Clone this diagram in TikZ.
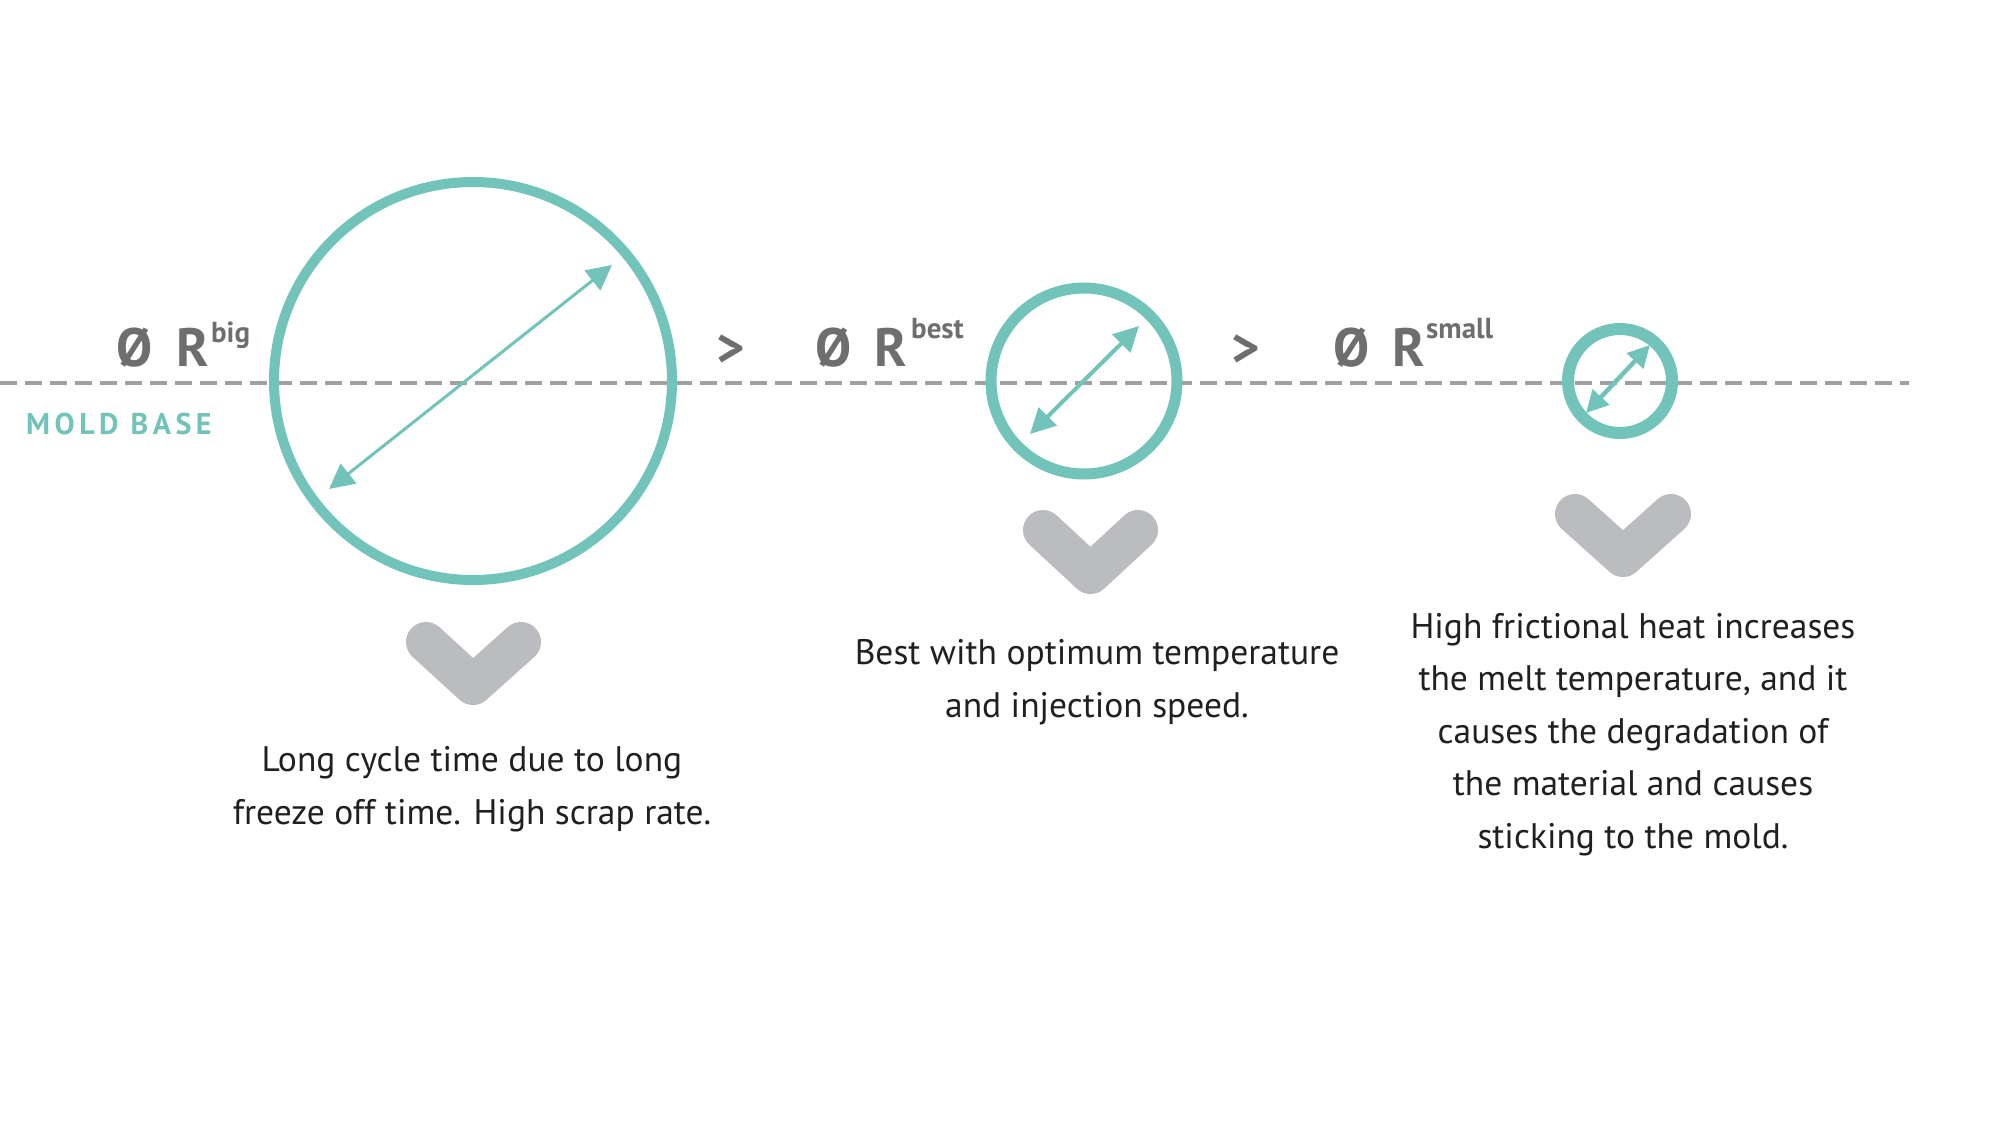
\documentclass[tikz,border=0pt]{standalone}
\usepackage{fontspec}
\setmainfont{PT Sans}
\newfontfamily\spacedbold[LetterSpace=15]{PT Sans Bold}
\usetikzlibrary{arrows.meta}
\definecolor{tealc}{HTML}{72C3B9}
\definecolor{chevc}{HTML}{BBBCBF}
\definecolor{dashc}{HTML}{A0A0A0}
\definecolor{labc}{HTML}{6E6E6E}
\definecolor{txtc}{HTML}{202020}
\tikzset{
  ring/.style={circle, draw=tealc, inner sep=0pt, outer sep=0pt},
  dbl/.style={draw=tealc, {Triangle[length=#1pt,width=#1pt]}-{Triangle[length=#1pt,width=#1pt]}},
  chevron/.style={draw=chevc, line width=40pt, line cap=round, line join=round},
  sym/.style={text=labc, font=\fontsize{54}{60}\selectfont\bfseries, inner sep=0pt, anchor=base west},
  supr/.style={text=labc, font=\fontsize{29}{34}\selectfont\bfseries, inner sep=0pt, anchor=base west},
  body/.style={text=txtc, font=\fontsize{35.5}{52.5}\selectfont, align=center, inner sep=0pt, anchor=base},
  baseline/.style={draw=dashc, line width=4.5pt, dash pattern=on 17pt off 8pt}
}
\begin{document}
\begin{tikzpicture}[x=1pt,y=-1pt]
\useasboundingbox[fill=white] (0,0) rectangle (2000,1124);
% mold base line
\coordinate (lineL) at (0,383);
\coordinate (lineR) at (1909,383);
\draw[baseline] (lineL) -- (lineR);
\node[text=tealc, font=\fontsize{30}{34}\selectfont\spacedbold, inner sep=0pt, anchor=base west] (mold) at (26,434) {MOLD BASE};
% circles
\node[ring, line width=10pt, minimum size=398pt] (big) at (473,381) {};
\node[ring, line width=11pt, minimum size=186pt] (mid) at (1084,381) {};
\node[ring, line width=12pt, minimum size=104pt] (small) at (1620,381) {};
% diameter arrows
\coordinate (bigA) at (329,489);
\coordinate (bigB) at (612,265);
\draw[dbl=25, line width=3pt] (bigA) -- (bigB);
\coordinate (midA) at (1030,434);
\coordinate (midB) at (1139,326);
\draw[dbl=25, line width=4pt] (midA) -- (midB);
\coordinate (smallA) at (1586,413);
\coordinate (smallB) at (1650,345);
\draw[dbl=22, line width=4.5pt] (smallA) -- (smallB);
% labels
\node[sym] (d1) at (116,366) {Ø};
\node[sym] (r1) at (176,366) {R};
\node[supr] (s1) at (211,342) {big};
\node[sym] (gt1) at (716,366) {>};
\node[sym] (d2) at (815,366) {Ø};
\node[sym] (r2) at (874,366) {R};
\node[supr] (s2) at (911,338) {best};
\node[sym] (gt2) at (1231,366) {>};
\node[sym] (d3) at (1333,366) {Ø};
\node[sym] (r3) at (1392,366) {R};
\node[supr] (s3) at (1426,338) {small};
% chevrons
\draw[chevron] (426,642) -- (473,685) -- (521,642);
\draw[chevron] (1043,530) -- (1090.5,574) -- (1138,530);
\draw[chevron] (1575,514) -- (1623,557) -- (1671,514);
% texts (anchor = baseline of last line)
\node[body] (t1) at (472,824) {Long cycle time due to long\\freeze off time. High scrap rate.};
\node[body] (t2) at (1097,717) {Best with optimum temperature\\and injection speed.};
\node[body] (t3) at (1633,848) {High frictional heat increases\\the melt temperature, and it\\causes the degradation of\\the material and causes\\sticking to the mold.};
\end{tikzpicture}
\end{document}
